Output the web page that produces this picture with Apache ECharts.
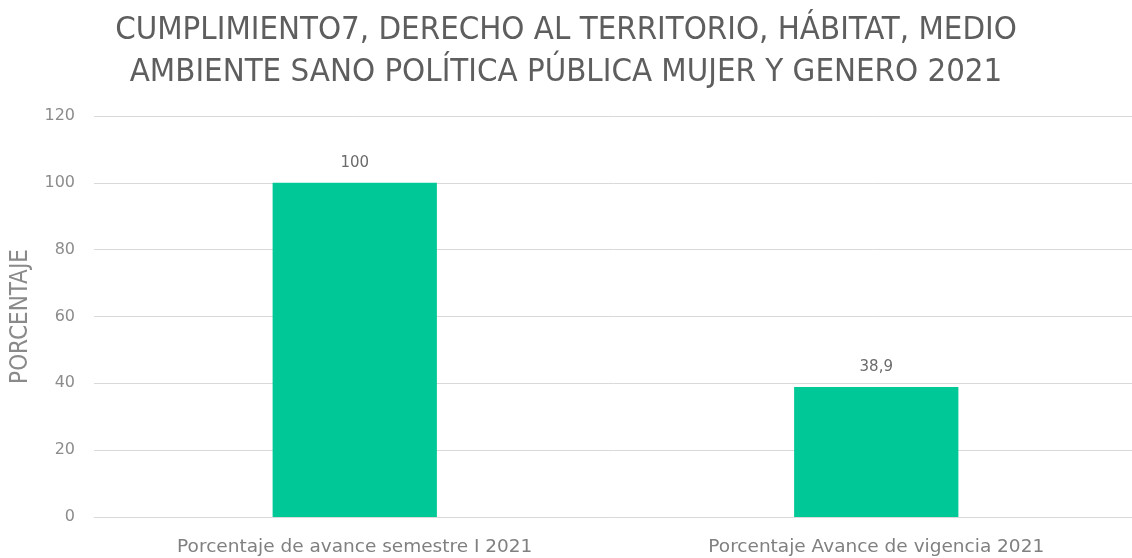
<!DOCTYPE html>
<html>
<head>
<meta charset="utf-8">
<script src="https://cdn.jsdelivr.net/npm/echarts@6/dist/echarts.min.js"></script>
<style>
  html, body { margin: 0; padding: 0; background: #fff; }
  #main { width: 1132px; height: 558px; }
</style>
</head>
<body>
<div id="main"></div>
<script>
// datos del grafico
var categorias = ['Porcentaje de avance semestre I 2021', 'Porcentaje Avance de vigencia 2021'];
var valores = [100, 38.9];
var tituloLineas = ['CUMPLIMIENTO7, DERECHO AL TERRITORIO, HÁBITAT, MEDIO', 'AMBIENTE SANO POLÍTICA PÚBLICA MUJER Y GENERO 2021'];
var nombreEjeY = 'PORCENTAJE';

var fuenteEstrecha = '"Liberation Sans Narrow", "DejaVu Sans Condensed", "Roboto", sans-serif';
var fuenteAncha = '"DejaVu Sans", "Roboto", sans-serif';
var chart = echarts.init(document.getElementById('main'));

var option = {
    backgroundColor: '#ffffff',
    animation: false,
    title: {
        text: tituloLineas.join('\n'),
        left: 'center',
        top: 5,
        textStyle: {
            fontFamily: fuenteEstrecha,
            fontSize: 32.7,
            fontWeight: 'normal',
            color: '#5e5e5e',
            lineHeight: 42
        }
    },
    grid: {
        left: 94,
        top: 116,
        width: 1043,
        bottom: 41,
        containLabel: false,
        outerBoundsMode: 'none'
    },
    xAxis: {
        type: 'category',
        data: categorias,
        axisLine: { show: true, lineStyle: { color: '#d9d9d9', width: 1 } },
        axisTick: { show: false },
        axisLabel: {
            color: '#808080',
            fontFamily: fuenteAncha,
            fontSize: 18.5,
            margin: 21
        }
    },
    yAxis: {
        type: 'value',
        min: 0,
        max: 120,
        interval: 20,
        name: nombreEjeY,
        nameLocation: 'middle',
        nameGap: 61,
        nameRotate: 90,
        nameTextStyle: {
            color: '#8a8a8a',
            fontFamily: fuenteEstrecha,
            fontSize: 24
        },
        axisLine: { show: false },
        axisTick: { show: false },
        axisLabel: {
            color: '#8c8c8c',
            fontFamily: fuenteAncha,
            fontSize: 16,
            margin: 19
        },
        splitLine: { lineStyle: { color: '#d9d9d9', width: 1 } }
    },
    series: [{
        type: 'bar',
        data: valores,
        barWidth: '31.5%',
        itemStyle: { color: '#00c896' },
        label: {
            show: true,
            position: 'top',
            distance: 12,
            color: '#6b6b6b',
            fontFamily: fuenteAncha,
            fontSize: 15,
            formatter: function (p) {
                return String(p.value).replace('.', ',');
            }
        }
    }]
};

chart.setOption(option);
</script>
</body>
</html>
